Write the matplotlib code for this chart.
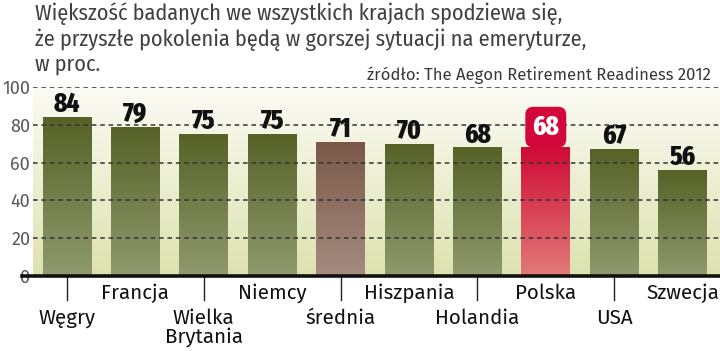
import numpy as np
import matplotlib
matplotlib.use("Agg")
import matplotlib.pyplot as plt
from matplotlib.colors import LinearSegmentedColormap

countries = ["Węgry", "Francja", "Wielka\nBrytania", "Niemcy", "średnia",
             "Hiszpania", "Holandia", "Polska", "USA", "Szwecja"]
values = [84, 79, 75, 75, 71, 70, 68, 68, 67, 56]
yticks = [0, 20, 40, 60, 80, 100]

title = ("Większość badanych we wszystkich krajach spodziewa się,\n"
         "że przyszłe pokolenia będą w gorszej sytuacji na emeryturze,\n"
         "w proc.")
source = "źródło: The Aegon Retirement Readiness 2012"

SANS = ["Fira Sans", "DejaVu Sans"]
COND = ["Fira Sans Condensed", "DejaVu Sans"]
NUMFONT = ["Fira Sans Extra Condensed", "DejaVu Sans"]
plt.rcParams["font.family"] = SANS

GREEN = ("#566226", "#8f9a6e")
BROWN = ("#7a5848", "#a48c80")
RED = ("#cf0a35", "#e27b78")

fig = plt.figure(figsize=(7.2, 3.51), dpi=100, facecolor="white")
ax = fig.add_axes([33 / 720, 1 - 276 / 351, 687 / 720, 189 / 351])
XL = (-0.497, 9.547)

# background gradient (white top -> pale yellow-green bottom)
bg_cmap = LinearSegmentedColormap.from_list("bg", ["#dde2ae", "#fbfbf5"])
ax.imshow(np.linspace(0, 1, 256).reshape(-1, 1), cmap=bg_cmap, aspect="auto",
          origin="lower", extent=(XL[0], XL[1], 0, 100), zorder=0)

x = np.arange(len(values))
bars = ax.bar(x, values, width=0.716, color="none", zorder=1)
for i, (b, v) in enumerate(zip(bars, values)):
    if countries[i] == "Polska":
        c = RED
    elif countries[i] == "średnia":
        c = BROWN
    else:
        c = GREEN
    cmap = LinearSegmentedColormap.from_list("b%d" % i, [c[1], c[0]])
    im = ax.imshow(np.linspace(0, 1, 256).reshape(-1, 1), cmap=cmap, aspect="auto",
                   origin="lower", extent=(b.get_x(), b.get_x() + b.get_width(), 0, v),
                   zorder=1)
    im.set_clip_path(b)

ax.set_xlim(*XL)
ax.set_ylim(0, 100)

# dashed grid on top of bars
for t in yticks[1:]:
    ax.axhline(t, color="#333333", lw=1.1, ls=(0, (3, 2.5)), zorder=3)

# value labels
for i, v in enumerate(values):
    if countries[i] == "Polska":
        ax.text(i, v + 10.8, str(v), ha="center", va="center", fontsize=19.5,
                fontweight=800, color="white", zorder=5, family=NUMFONT,
                bbox=dict(boxstyle="round,pad=0.26,rounding_size=0.3",
                          fc="#d2083a", ec="none"))
    else:
        ax.text(i, v + 2.6, str(v), ha="center", va="baseline", fontsize=19.5,
                fontweight=800, color="#111111", zorder=5, family=NUMFONT)

ax.set_yticks(yticks)
ax.set_yticklabels([str(t) for t in yticks], fontsize=13, color="#5a5a5a")
ax.tick_params(axis="y", length=0, pad=2)
ax.set_xticks([])
for s in ax.spines.values():
    s.set_visible(False)

# thick baseline
fig.add_artist(plt.Line2D([22 / 720, 1], [1 - 276 / 351] * 2, color="#111111",
                          lw=2.6, transform=fig.transFigure))

# category labels, staggered
for i, name in enumerate(countries):
    if i % 2 == 0:
        ax.plot([i, i], [0, -12.7], color="#222222", lw=1, clip_on=False, zorder=4)
        ax.text(i, -17.2, name, ha="center", va="top", fontsize=14.8, color="#111111",
                linespacing=0.92)
    else:
        ax.text(i, -4.0, name, ha="center", va="top", fontsize=14.8, color="#111111")

fig.text(35 / 720, 1 - 2 / 351, title, ha="left", va="top", fontsize=16,
         color="#404040", linespacing=1.2, family=COND)
fig.text(711 / 720, 1 - 75 / 351, source, ha="right", va="center", fontsize=12,
         color="#383838")

fig.savefig("out.png", dpi=100, facecolor="white")
